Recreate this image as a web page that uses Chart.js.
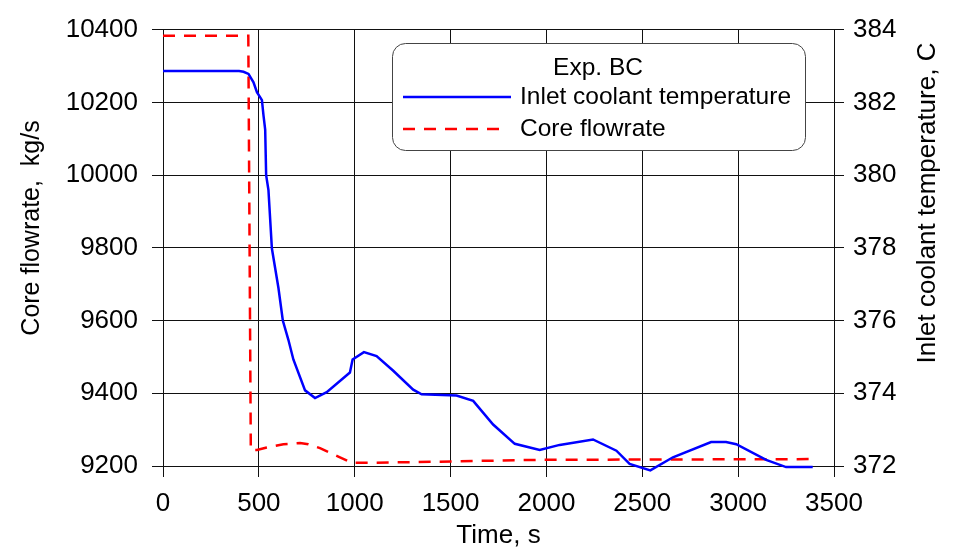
<!DOCTYPE html>
<html>

<head>
    <meta charset="utf-8">
    <title>Core flowrate and inlet coolant temperature</title>
    <script src="https://cdn.jsdelivr.net/npm/chart.js"></script>
    <style>
        html, body { margin: 0; padding: 0; background: #fff; }
        canvas { display: block; }
    </style>
</head>

<body>
    <canvas id="myChart" width="955" height="551"></canvas>

    <script>
        // Inlet coolant temperature, C (right axis)
        const tempTime = [0, 397, 420, 446, 472, 490, 516, 524, 533, 538, 550, 568, 602, 625, 654, 680, 741,
            793, 854, 975, 989, 1048, 1114, 1201, 1305, 1349, 1531, 1618, 1722, 1835, 1965, 2069, 2243, 2365,
            2434, 2542, 2660, 2859, 2937, 2990, 3146, 3250, 3389];
        const tempValues = [382.86, 382.86, 382.84, 382.78, 382.55, 382.28, 382.06, 381.65, 381.25, 380.0,
            379.59, 377.98, 376.9, 376.0, 375.47, 374.93, 374.08, 373.87, 374.03, 374.57, 374.93, 375.13,
            375.02, 374.62, 374.1, 373.97, 373.94, 373.79, 373.14, 372.61, 372.44, 372.58, 372.73, 372.42,
            372.06, 371.88, 372.24, 372.66, 372.66, 372.6, 372.17, 371.97, 371.97];

        // Core flowrate, kg/s (left axis)
        const flowTime = [0, 445, 458, 490, 541, 628, 715, 758, 819, 923, 984, 1101, 1444, 1965, 3389, 3400];
        const flowValues = [10383, 10383, 9244, 9244, 9251, 9260, 9263, 9260, 9249, 9224, 9209, 9209, 9212,
            9217, 9219, 9223];

        // tick labels
        const timeTicks = [0, 500, 1000, 1500, 2000, 2500, 3000, 3500];
        const flowTicks = [9200, 9400, 9600, 9800, 10000, 10200, 10400];
        const tempTicks = [372, 374, 376, 378, 380, 382, 384];

        const toPoints = (xs, ys) => xs.map((x, i) => ({ x: x, y: ys[i] }));
        const useTicks = (values) => (scale) => { scale.ticks = values.map(v => ({ value: v })); };
        const plain = (v) => String(v);

        const FONT = 'Liberation Sans, Arial, sans-serif';

        // rounded legend box with a heading, drawn over the grid
        const boxLegend = {
            id: 'boxLegend',
            afterDraw(chart) {
                const ctx = chart.ctx;
                const sets = chart.data.datasets;
                ctx.save();
                ctx.beginPath();
                ctx.roundRect(392.5, 43.5, 413, 107, 13);
                ctx.fillStyle = '#fff';
                ctx.fill();
                ctx.lineWidth = 1;
                ctx.strokeStyle = '#444';
                ctx.stroke();

                ctx.fillStyle = '#000';
                ctx.font = '24.5px ' + FONT;
                ctx.textBaseline = 'middle';
                ctx.textAlign = 'center';
                ctx.fillText('Exp. BC', 598, 68);

                const rows = [{ ds: sets[0], y: 97, end: 511 }, { ds: sets[1], y: 129, end: 505 }];
                rows.forEach(r => {
                    ctx.beginPath();
                    ctx.setLineDash(r.ds.borderDash || []);
                    ctx.strokeStyle = r.ds.borderColor;
                    ctx.lineWidth = r.ds.borderWidth;
                    ctx.moveTo(403, r.y);
                    ctx.lineTo(r.end, r.y);
                    ctx.stroke();
                    ctx.setLineDash([]);
                    ctx.textAlign = 'left';
                    ctx.fillText(r.ds.label, 520, r.y);
                });
                ctx.restore();
            }
        };

        // rotated axis titles, both reading bottom to top
        const sideTitles = {
            id: 'sideTitles',
            afterDraw(chart) {
                const ctx = chart.ctx;
                const draw = (text, x, y, size) => {
                    ctx.save();
                    ctx.fillStyle = '#000';
                    ctx.font = size + 'px ' + FONT;
                    ctx.textAlign = 'center';
                    ctx.textBaseline = 'middle';
                    ctx.translate(x, y);
                    ctx.rotate(-Math.PI / 2);
                    ctx.fillText(text, 0, 0);
                    ctx.restore();
                };
                draw('Core flowrate,  kg/s', 32, 228, 25);
                draw('Inlet coolant temperature, C', 928, 203, 26);
            }
        };

        const data = {
            datasets: [
                {
                    label: 'Inlet coolant temperature',
                    data: toPoints(tempTime, tempValues),
                    yAxisID: 'y1',
                    borderColor: '#0000ff',
                    borderWidth: 2.5,
                    pointRadius: 0,
                    showLine: true,
                    tension: 0,
                    clip: 8
                },
                {
                    label: 'Core flowrate',
                    data: toPoints(flowTime, flowValues),
                    yAxisID: 'y',
                    borderColor: '#ff0000',
                    borderWidth: 2.5,
                    borderDash: [12, 9],
                    pointRadius: 0,
                    showLine: true,
                    tension: 0,
                    clip: 8
                }
            ]
        };

        const config = {
            type: 'scatter',
            data: data,
            options: {
                responsive: false,
                animation: false,
                devicePixelRatio: 1,
                layout: { padding: { top: 19, left: 0, right: 0, bottom: 0 } },
                scales: {
                    x: {
                        type: 'linear',
                        min: 0,
                        max: 3500,
                        afterBuildTicks: useTicks(timeTicks),
                        afterFit: (s) => { s.height = 85; },
                        grid: { color: '#111', lineWidth: 1, tickLength: 11 },
                        border: { color: '#111' },
                        ticks: {
                            color: '#000', padding: 11, maxRotation: 0, callback: plain,
                            font: { family: FONT, size: 26 }
                        },
                        title: {
                            display: true, text: 'Time, s', color: '#000',
                            padding: { top: 0, bottom: 0 },
                            font: { family: FONT, size: 26 }
                        }
                    },
                    y: {
                        position: 'left',
                        min: 9200,
                        max: 10400,
                        afterBuildTicks: useTicks(flowTicks),
                        afterFit: (s) => { s.width = 163; },
                        grid: { color: '#111', lineWidth: 1, tickLength: 11 },
                        border: { color: '#111' },
                        ticks: {
                            color: '#000', padding: 14, callback: plain,
                            font: { family: FONT, size: 26 }
                        }
                    },
                    y1: {
                        position: 'right',
                        min: 372,
                        max: 384,
                        afterBuildTicks: useTicks(tempTicks),
                        afterFit: (s) => { s.width = 121; },
                        grid: { drawOnChartArea: false, color: '#111', lineWidth: 1, tickLength: 10 },
                        border: { color: '#111' },
                        ticks: {
                            color: '#000', padding: 9, callback: plain,
                            font: { family: FONT, size: 26 }
                        }
                    }
                },
                plugins: {
                    legend: { display: false },
                    tooltip: { enabled: false }
                }
            },
            plugins: [boxLegend, sideTitles]
        };
    </script>

    <script>
        const myChart = new Chart(
            document.getElementById('myChart'),
            config
        );
    </script>

</body>

</html>
